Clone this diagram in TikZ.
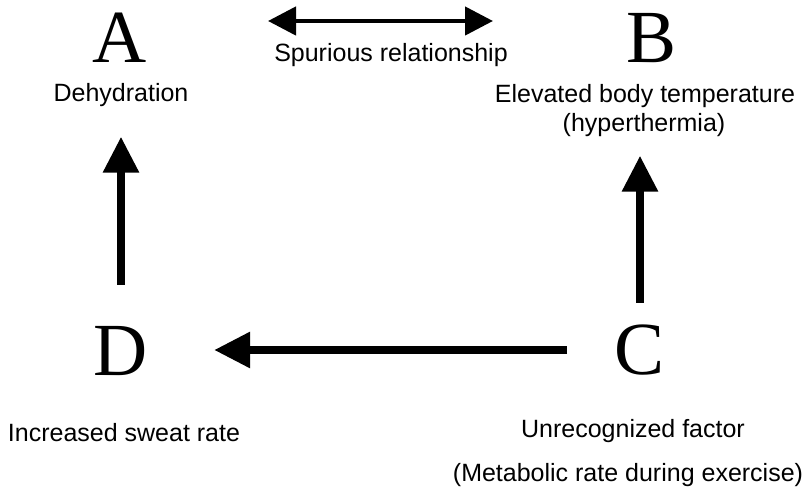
\documentclass[tikz,border=0pt]{standalone}
\usepackage{fontspec}
\setmainfont{Liberation Sans}
\newfontfamily\serifL{Liberation Serif}
\usetikzlibrary{arrows.meta}
\begin{document}
\begin{tikzpicture}[x=1pt,y=-1pt,
  letter/.style={font=\serifL\fontsize{75}{75}\selectfont, inner sep=0pt},
  lbl/.style={font=\fontsize{25}{25}\selectfont, inner sep=0pt, anchor=base},
  varr/.style={line width=8.5pt, -{Triangle[length=36pt,width=34pt]}},
  darr/.style={line width=4.5pt, {Triangle[length=28pt,width=28pt]}-{Triangle[length=28pt,width=28pt]}}]
\useasboundingbox (0,0) rectangle (809,494);
\node[letter] (A) at (120,38) {A};
\node[letter] (B) at (652,38) {B};
\node[letter] (D) at (121,351) {D};
\node[letter] (C) at (640,350) {C};
\node[lbl] (dehyd) at (121,102) {Dehydration};
\node[lbl] (spur) at (391,62) {Spurious relationship};
\node[lbl] (elev) at (645,103) {Elevated body temperature};
\node[lbl] (hyp) at (644,132) {(hyperthermia)};
\node[lbl] (sweat) at (124,442) {Increased sweat rate};
\node[lbl] (unrec) at (633,437) {Unrecognized factor};
\node[lbl] (metab) at (628,481) {(Metabolic rate during exercise)};
\draw[darr, shorten <=148pt, shorten >=159pt] ([yshift=17pt]A.center) -- ([yshift=17pt]B.center);
\draw[varr, shorten <=66pt, shorten >=41pt] (D.center) -- (D.center |- dehyd.center);
\draw[varr, shorten <=47pt, shorten >=30pt] (C.center) -- (C.center |- hyp.center);
\draw[varr, shorten <=73pt, shorten >=93pt] (C.center) -- (C.center -| D.center);
\end{tikzpicture}
\end{document}
